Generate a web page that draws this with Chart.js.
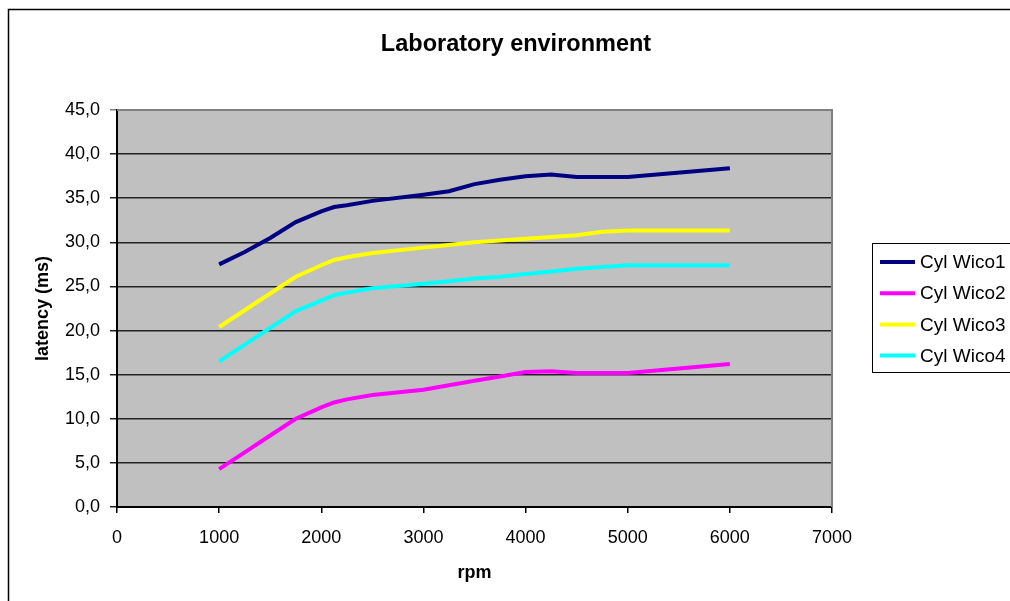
<!DOCTYPE html>
<html>
<head>
<meta charset="utf-8">
<script src="https://cdn.jsdelivr.net/npm/chart.js@4/dist/chart.umd.min.js"></script>
<style>
  html, body { margin: 0; padding: 0; background: #fff; overflow: hidden; }
  #wrap { width: 1010px; height: 601px; position: relative; }
</style>
</head>
<body>
<div id="wrap"><canvas id="c" width="1010" height="601"></canvas></div>
<script>
// Measured latency per cylinder across engine speed
const rpm   = [1000, 1250, 1500, 1750, 2000, 2125, 2250, 2500, 3000, 3250, 3500, 3750, 4000, 4250, 4500, 4750, 5000, 6000];
const wico1 = [27.5, 28.9, 30.5, 32.3, 33.5, 34.0, 34.2, 34.7, 35.4, 35.8, 36.6, 37.1, 37.5, 37.7, 37.4, 37.4, 37.4, 38.4];
const wico2 = [4.3, 6.2, 8.1, 10.0, 11.3, 11.85, 12.2, 12.7, 13.3, 13.8, 14.3, 14.8, 15.3, 15.4, 15.2, 15.2, 15.2, 16.2];
const wico3 = [20.4, 22.3, 24.2, 26.1, 27.4, 28.0, 28.3, 28.8, 29.4, 29.7, 30.0, 30.2, 30.4, 30.6, 30.8, 31.2, 31.35, 31.35];
const wico4 = [16.5, 18.4, 20.3, 22.2, 23.4, 24.0, 24.3, 24.8, 25.3, 25.6, 25.9, 26.1, 26.4, 26.7, 27.0, 27.2, 27.4, 27.4];

const seriesNames  = ['Cyl Wico1', 'Cyl Wico2', 'Cyl Wico3', 'Cyl Wico4'];
const seriesValues = [wico1, wico2, wico3, wico4];
const seriesColors = ['#000080', '#FF00FF', '#FFFF00', '#00FFFF'];

const chartTitle = 'Laboratory environment';
const xTitle = 'rpm';
const yTitle = 'latency (ms)';
const xRange = [0, 7000];
const yRange = [0, 45];

const FONT = '"Liberation Sans", Arial, sans-serif';

const datasets = seriesNames.map((name, i) => ({
  label: name,
  data: rpm.map((r, k) => ({ x: r, y: seriesValues[i][k] })),
  borderColor: seriesColors[i],
  backgroundColor: seriesColors[i],
  borderWidth: 4,
  pointRadius: 0,
  tension: 0,
  fill: false
}));

// Page frame, plot fill, titles and legend box
const decorations = {
  id: 'decorations',
  beforeDraw(chart) {
    const ctx = chart.ctx, a = chart.chartArea;
    ctx.save();
    ctx.fillStyle = '#fff';
    ctx.fillRect(0, 0, chart.width, chart.height);
    ctx.strokeStyle = '#000';
    ctx.lineWidth = 1.5;
    ctx.strokeRect(8.5, 9.5, 1200, 800);
    ctx.fillStyle = '#C0C0C0';
    ctx.fillRect(a.left, a.top, a.right - a.left, a.bottom - a.top);
    ctx.restore();
  },
  beforeDatasetsDraw(chart) {
    const ctx = chart.ctx, a = chart.chartArea;
    ctx.save();
    ctx.strokeStyle = '#808080';
    ctx.lineWidth = 2;
    ctx.beginPath();
    ctx.moveTo(a.left, a.top);
    ctx.lineTo(a.right, a.top);
    ctx.lineTo(a.right, a.bottom);
    ctx.stroke();
    ctx.restore();
  },
  afterDraw(chart) {
    const ctx = chart.ctx, a = chart.chartArea;
    ctx.save();
    ctx.fillStyle = '#000';
    ctx.textAlign = 'center';
    ctx.textBaseline = 'middle';
    ctx.font = 'bold 23.5px ' + FONT;
    ctx.fillText(chartTitle, 516, 45);

    ctx.font = 'bold 18px ' + FONT;
    ctx.fillText(xTitle, (a.left + a.right) / 2, 573);
    ctx.save();
    ctx.translate(43, (a.top + a.bottom) / 2);
    ctx.rotate(-Math.PI / 2);
    ctx.fillText(yTitle, 0, 0);
    ctx.restore();

    // legend
    ctx.strokeStyle = '#000';
    ctx.lineWidth = 1;
    ctx.strokeRect(872.5, 243.5, 300, 129);
    ctx.font = '19px ' + FONT;
    ctx.textAlign = 'left';
    seriesNames.forEach((name, i) => {
      const y = 262 + i * 31.2;
      ctx.strokeStyle = seriesColors[i];
      ctx.lineWidth = 4;
      ctx.beginPath();
      ctx.moveTo(880, y);
      ctx.lineTo(915, y);
      ctx.stroke();
      ctx.fillStyle = '#000';
      ctx.fillText(name, 920, y + 1);
    });
    ctx.restore();
  }
};

new Chart(document.getElementById('c'), {
  type: 'line',
  data: { datasets },
  plugins: [decorations],
  options: {
    responsive: false,
    animation: false,
    layout: { padding: { top: 110, right: 178, left: 0, bottom: 0 } },
    plugins: {
      legend: { display: false },
      title: { display: false },
      tooltip: { enabled: false }
    },
    scales: {
      x: {
        type: 'linear',
        min: xRange[0],
        max: xRange[1],
        afterFit(s) { s.height = 94; },
        ticks: {
          stepSize: 1000,
          color: '#000',
          font: { family: FONT, size: 18 },
          padding: 14,
          maxRotation: 0,
          callback: v => String(v)
        },
        grid: { drawOnChartArea: false, drawTicks: true, tickLength: 6, color: '#000', lineWidth: 1.5 },
        border: { display: true, color: '#000', width: 2 }
      },
      y: {
        type: 'linear',
        min: yRange[0],
        max: yRange[1],
        afterFit(s) { s.width = 117; },
        ticks: {
          stepSize: 5,
          color: '#000',
          font: { family: FONT, size: 18 },
          padding: 10,
          callback: v => v.toFixed(1).replace('.', ',')
        },
        grid: {
          drawTicks: true,
          tickLength: 7,
          color: c => (c.tick && c.tick.value === 45) ? '#808080' : '#222',
          lineWidth: 1.5
        },
        border: { display: true, color: '#000', width: 2 }
      }
    }
  }
});
</script>
</body>
</html>
